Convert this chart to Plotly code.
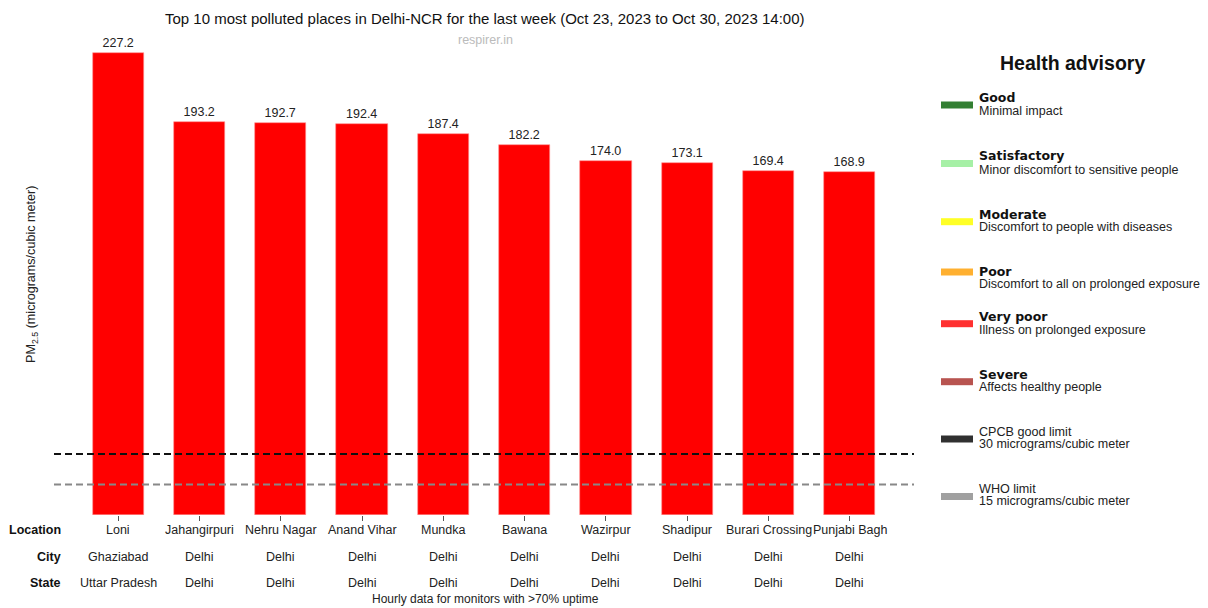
import plotly.graph_objects as go

# Data
locations = ["Loni", "Jahangirpuri", "Nehru Nagar", "Anand Vihar", "Mundka",
             "Bawana", "Wazirpur", "Shadipur", "Burari Crossing", "Punjabi Bagh"]
cities = ["Ghaziabad", "Delhi", "Delhi", "Delhi", "Delhi",
          "Delhi", "Delhi", "Delhi", "Delhi", "Delhi"]
states = ["Uttar Pradesh", "Delhi", "Delhi", "Delhi", "Delhi",
          "Delhi", "Delhi", "Delhi", "Delhi", "Delhi"]
pm25 = [227.2, 193.2, 192.7, 192.4, 187.4, 182.2, 174.0, 173.1, 169.4, 168.9]

CPCB_LIMIT = 30
WHO_LIMIT = 15

advisory_titles = ["Good", "Satisfactory", "Moderate", "Poor", "Very poor", "Severe",
                   "CPCB good limit", "WHO limit"]
advisory_descs = ["Minimal impact", "Minor discomfort to sensitive people",
                  "Discomfort to people with diseases", "Discomfort to all on prolonged exposure",
                  "Illness on prolonged exposure", "Affects healthy people",
                  "30 micrograms/cubic meter", "15 micrograms/cubic meter"]
advisory_colors = ["#337F33", "#A6F0A6", "#FFFF26", "#FFB030", "#FF3030", "#B85450",
                   "#303030", "#A0A0A0"]
advisory_bold = [True, True, True, True, True, True, False, False]

# Layout geometry (pixels); the page body adds an 8px margin
OFF = 8
W, H = 1200, 600
L, R, T, B = 46, 294, 19, 93
PW, PH = W - L - R, H - T - B
FONT = "Liberation Sans, Arial, sans-serif"
BOLD_FONT = "DejaVu Sans, sans-serif"


def px(x):
    # screen x -> paper x
    return (x - OFF - L) / PW


def py(y):
    # screen y -> paper y
    return (H - B - (y - OFF)) / PH


x_idx = list(range(len(locations)))

fig = go.Figure()
fig.add_trace(go.Bar(
    x=x_idx, y=pm25, width=0.63,
    marker=dict(color="#FF0000", line=dict(color="#FF9090", width=0.6)),
    text=[f"{v:.1f}" for v in pm25], textposition="outside",
    textfont=dict(size=12.5, color="#222222", family=FONT),
    cliponaxis=False, showlegend=False,
))

shapes = [
    dict(type="line", xref="x domain", yref="y", x0=0, x1=1, y0=CPCB_LIMIT, y1=CPCB_LIMIT,
         line=dict(color="#111111", width=2, dash="7px,4px")),
    dict(type="line", xref="x domain", yref="y", x0=0, x1=1, y0=WHO_LIMIT, y1=WHO_LIMIT,
         line=dict(color="#888888", width=2, dash="7px,4px")),
]

annotations = []
# Row labels under the axis
row_y = [-15, -42, -68]
for name, dy in zip(["Location", "City", "State"], row_y):
    annotations.append(dict(text=f"<b>{name}</b>", xref="paper", yref="paper", x=px(63), y=0,
                            xanchor="right", yanchor="middle", yshift=dy, showarrow=False,
                            font=dict(size=12.5, color="#111111", family=FONT)))
for i in x_idx:
    for label, dy in zip([locations[i], cities[i], states[i]], row_y):
        annotations.append(dict(text=label, xref="x", yref="paper", x=i, y=0,
                                xanchor="center", yanchor="middle", yshift=dy, showarrow=False,
                                font=dict(size=12.5, color="#222222", family=FONT)))
annotations.append(dict(text="Hourly data for monitors with >70% uptime", xref="paper", yref="paper",
                        x=px(485), y=0, yshift=-84, xanchor="center", yanchor="middle",
                        showarrow=False, font=dict(size=12, color="#222222", family=FONT)))

# Title and source
annotations.append(dict(text="Top 10 most polluted places in Delhi-NCR for the last week (Oct 23, 2023 to Oct 30, 2023 14:00)",
                        xref="paper", yref="paper", x=px(485), y=py(18), xanchor="center",
                        yanchor="middle", showarrow=False,
                        font=dict(size=15, color="#111111", family=FONT)))
annotations.append(dict(text="respirer.in", xref="paper", yref="paper", x=px(485), y=py(40),
                        xanchor="center", yanchor="middle", showarrow=False,
                        font=dict(size=12.5, color="#BBBBBB", family=FONT)))

# Y axis title
annotations.append(dict(text="PM<sub>2.5</sub> (micrograms/cubic meter)", xref="paper", yref="paper",
                        x=px(32), y=py(275), xanchor="center", yanchor="middle", textangle=-90,
                        showarrow=False, font=dict(size=12.6, color="#222222", family=FONT)))

# Health advisory panel
annotations.append(dict(text="<b>Health advisory</b>", xref="paper", yref="paper", x=px(1072), y=py(63),
                        xanchor="center", yanchor="middle", showarrow=False,
                        font=dict(size=19.5, color="#111111", family=FONT)))
swatch_y = [105, 163.5, 221.7, 272, 323.7, 381.7, 439, 496.5]
title_y = [97, 155.7, 214.3, 271, 316.3, 374, 432, 489.3]
desc_y = [111, 170.3, 226.7, 284.3, 330, 387.3, 444, 501]
for t, d, c, b, sy, ty, dy in zip(advisory_titles, advisory_descs, advisory_colors, advisory_bold,
                                   swatch_y, title_y, desc_y):
    shapes.append(dict(type="rect", xref="paper", yref="paper", x0=px(941), x1=px(973),
                       y0=py(sy + 3.5), y1=py(sy - 3.5), fillcolor=c, line=dict(width=0)))
    if b:
        tfont = dict(size=12.5, color="#111111", family=BOLD_FONT)
        ttext = f"<b>{t}</b>"
    else:
        tfont = dict(size=12.6, color="#222222", family=FONT)
        ttext = t
    annotations.append(dict(text=ttext, xref="paper", yref="paper",
                            x=px(977), y=py(ty), xanchor="left", yanchor="middle", showarrow=False,
                            font=tfont))
    annotations.append(dict(text=d, xref="paper", yref="paper", x=px(977), y=py(dy),
                            xanchor="left", yanchor="middle", showarrow=False,
                            font=dict(size=12.5, color="#222222", family=FONT)))

fig.update_layout(
    width=W, height=H,
    margin=dict(l=L, r=R, t=T, b=B),
    paper_bgcolor="white", plot_bgcolor="white",
    font=dict(family=FONT, color="#222222"),
    shapes=shapes, annotations=annotations,
    bargap=0,
)
fig.update_xaxes(range=[-0.79, 9.79], tickvals=x_idx, showticklabels=False,
                 ticks="outside", ticklen=5, tickcolor="#555555", tickwidth=1,
                 showline=False, showgrid=False, zeroline=False)
fig.update_yaxes(range=[0, PH / 2.033], showticklabels=False, showgrid=False,
                 zeroline=False, showline=False)

fig.write_html("out.html")
